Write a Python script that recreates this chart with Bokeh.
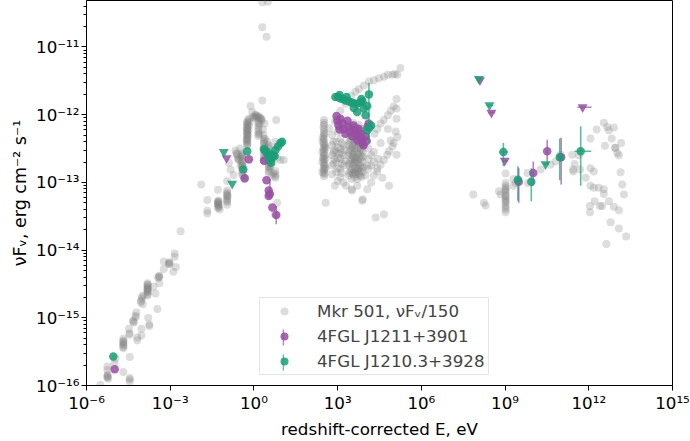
from bokeh.plotting import figure
from bokeh.models import ColumnDataSource, FixedTicker, CustomJSTickFormatter, Legend, LegendItem
from bokeh.embed import file_html
from bokeh.resources import INLINE

# Points are (log10 E/eV, log10 nuF_nu / erg cm^-2 s^-1).

# Mkr 501 (nuF_nu / 150)
mkr_radio = [
    (-5.50, -15.99), (-5.25, -15.87), (-5.25, -15.88), (-5.25, -15.72), (-5.25, -15.77), (-5.24, -15.84),
    (-5.22, -15.90), (-4.96, -15.60), (-5.00, -15.67), (-4.68, -15.80), (-4.45, -15.89), (-4.45, -15.91),
    (-4.45, -15.94), (-4.45, -15.58), (-4.68, -15.31), (-4.68, -15.34), (-4.68, -15.37), (-4.68, -15.41),
    (-4.68, -15.45), (-4.68, -15.35), (-4.48, -15.16), (-4.46, -15.23), (-4.46, -15.25), (-4.18, -15.29),
    (-4.18, -15.33), (-4.33, -15.04), (-4.30, -15.07), (-4.24, -14.97), (-4.21, -14.92), (-4.03, -15.16),
    (-4.03, -15.26), (-3.79, -15.00), (-3.75, -15.12), (-3.75, -15.10), (-4.05, -14.75), (-4.01, -14.69),
    (-3.98, -14.80), (-4.02, -14.72), (-3.81, -14.49), (-3.81, -14.52), (-3.81, -14.54), (-3.81, -14.56),
    (-3.81, -14.58), (-3.81, -14.60), (-3.81, -14.62), (-3.81, -14.65), (-3.81, -14.67), (-3.81, -14.57),
    (-3.96, -14.67), (-3.60, -14.54), (-3.46, -14.87), (-3.53, -14.64), (-3.39, -14.38), (-3.43, -14.41),
    (-3.41, -14.40), (-3.39, -14.49), (-3.23, -14.17), (-3.23, -14.28), (-3.03, -14.18), (-3.03, -14.21),
    (-3.05, -14.20), (-2.89, -14.32), (-2.80, -14.25), (-2.84, -14.05), (-2.84, -14.10), (-2.63, -13.72),
    (-4.68, -15.39), (-4.68, -15.43), (-4.33, -15.06), (-4.24, -14.99), (-4.05, -14.77), (-3.81, -14.51),
    (-3.81, -14.61), (-3.39, -14.39), (-3.03, -14.19), (-5.25, -15.86),
]
mkr_optical = [
    (-1.89, -13.03), (-1.67, -13.26), (-1.67, -13.42), (-1.67, -13.46), (-1.29, -13.11),
    (-1.29, -13.27), (-1.29, -13.30), (-1.27, -13.33), (-1.25, -13.36), (-1.23, -13.40), (-1.29, -13.38), (-1.27, -13.29),
    (-0.96, -12.98), (-0.96, -13.12), (-0.96, -13.17), (-0.96, -13.22), (-0.96, -13.27), (-0.96, -13.33), (-0.94, -13.20),
    (-0.90, -12.71), (-0.84, -12.81), (-0.73, -12.89),
    (-0.66, -12.53), (-0.60, -12.60), (-0.54, -12.67), (-0.48, -12.75), (-0.63, -12.57), (-0.57, -12.64),
    (-0.42, -12.57), (-0.42, -12.65), (-0.42, -12.73), (-0.42, -12.81), (-0.42, -12.89),
    (-0.50, -12.50), (-0.45, -12.62), (-0.40, -12.75), (-0.38, -12.90), (-0.35, -12.95),
    (-0.24, -12.10), (-0.24, -12.15), (-0.24, -12.21), (-0.24, -12.25), (-0.24, -12.28), (-0.24, -12.32),
    (-0.24, -12.35), (-0.24, -12.40), (-0.24, -12.45), (-0.26, -12.20), (-0.22, -12.30), (-0.26, -12.38),
    (-0.12, -11.87), (-0.06, -11.96), (-0.18, -12.06), (-0.18, -12.16), (-0.16, -12.11), (0.30, -11.79),
    (-0.05, -12.03), (0.06, -12.00), (0.16, -12.02), (0.27, -12.06), (0.38, -12.13), (0.00, -12.05), (0.10, -12.04), (0.22, -12.05),
    (0.16, -12.10), (0.16, -12.17), (0.16, -12.25), (0.16, -12.32), (0.20, -12.14), (0.20, -12.28),
    (0.36, -12.35), (0.36, -12.43), (0.36, -12.51), (0.36, -12.59), (0.36, -12.68), (0.32, -12.22), (0.34, -12.30),
    (0.53, -12.45), (0.53, -12.55), (0.53, -12.64), (0.53, -12.73), (0.53, -12.83), (0.48, -12.40), (0.58, -12.70), (0.58, -12.80),
    (0.77, -12.83), (0.77, -12.88), (0.77, -12.93), (0.70, -12.86), (0.65, -12.90),
    (0.80, -12.08), (0.83, -12.64), (0.77, -12.40), (0.95, -12.67), (1.07, -12.67), (0.76, -12.91), (0.75, -13.47), (0.83, -13.30),
    (0.30, -10.34), (0.50, -10.33), (0.30, -10.71), (0.45, -10.85),
    (-0.24, -12.12), (-0.24, -12.18), (-0.24, -12.24), (-0.24, -12.30), (-0.24, -12.37), (-0.24, -12.42),
    (0.36, -12.39), (0.36, -12.47), (0.36, -12.55), (0.36, -12.63), (0.53, -12.50), (0.53, -12.60),
    (0.53, -12.69), (0.53, -12.78), (0.16, -12.13), (0.16, -12.21), (0.16, -12.29), (-1.29, -13.31),
    (-1.27, -13.36), (-0.96, -13.15), (-0.96, -13.25), (-0.42, -12.61), (-0.42, -12.69), (-0.42, -12.77),
    (-0.42, -12.85), (0.05, -12.03), (0.25, -12.07),
    (-0.24, -12.14), (-0.24, -12.26), (-0.24, -12.34), (-0.24, -12.44), (-0.20, -12.08), (-0.20, -12.22),
    (0.36, -12.41), (0.36, -12.53), (0.36, -12.65), (0.40, -12.36), (0.40, -12.48),
    (0.53, -12.47), (0.53, -12.58), (0.53, -12.67), (0.53, -12.76), (0.53, -12.86), (0.60, -12.75),
    (0.05, -12.01), (0.12, -12.03), (0.20, -12.04), (0.28, -12.09),
    (-0.42, -12.60), (-0.42, -12.76), (-0.45, -12.68), (-0.60, -12.58), (-0.55, -12.66),
    (-1.29, -13.33), (-1.27, -13.28), (-0.96, -13.19), (-0.96, -13.29),
]
mkr_xray = [
    (5.25, -11.31), (5.14, -11.41), (4.96, -11.41), (4.80, -11.41), (4.66, -11.44), (4.48, -11.46), (4.30, -11.49),
    (4.12, -11.51), (3.94, -11.57), (3.76, -11.62), (3.64, -11.66), (3.49, -11.72), (3.28, -11.84), (3.10, -11.94), (5.05, -11.40),
    (5.11, -11.77), (5.01, -11.88), (4.90, -11.94), (4.80, -12.01), (4.66, -12.08), (4.54, -12.13), (4.42, -12.21), (4.32, -12.28),
    (5.11, -12.06), (5.08, -12.25), (5.01, -12.42), (4.96, -12.47), (4.84, -12.54), (4.78, -12.59), (4.66, -12.67), (4.54, -12.74), (4.42, -12.79),
    (5.11, -11.91), (5.14, -12.33), (5.11, -12.59), (4.90, -12.38), (4.80, -12.21), (4.54, -12.42),
    (4.84, -13.05), (4.60, -12.93), (4.42, -12.84), (4.20, -13.00), (4.06, -13.10), (4.36, -13.52), (4.66, -13.47),
    (2.51, -12.08), (2.51, -12.15), (2.51, -12.22), (2.51, -12.30), (2.51, -12.37), (2.51, -12.45), (2.51, -12.52),
    (2.51, -12.60), (2.51, -12.67), (2.51, -12.75), (2.51, -12.82), (2.51, -12.91), (2.45, -12.40), (2.45, -12.55),
    (2.45, -12.70), (2.45, -12.85), (2.57, -12.50), (2.57, -12.65), (2.57, -12.80), (2.57, -13.30),
    (2.80, -12.30), (2.80, -12.45), (2.80, -12.60), (2.80, -12.75), (2.80, -12.88), (2.95, -12.40), (2.95, -12.55),
    (2.95, -12.70), (2.95, -12.85), (3.10, -12.35), (3.10, -12.50), (3.10, -12.65), (3.10, -12.80), (3.10, -12.92),
    (3.22, -12.45), (3.22, -12.60), (3.22, -12.75), (2.70, -12.20), (2.90, -12.10), (3.00, -12.25),
    (3.40, -12.30), (3.40, -12.45), (3.40, -12.60), (3.40, -12.75), (3.40, -12.90),
    (3.50, -12.20), (3.50, -12.35), (3.50, -12.50), (3.50, -12.65), (3.50, -12.80), (3.50, -12.95),
    (3.60, -12.25), (3.60, -12.40), (3.60, -12.55), (3.60, -12.70), (3.60, -12.85),
    (3.70, -12.20), (3.70, -12.35), (3.70, -12.50), (3.70, -12.65), (3.70, -12.80), (3.70, -12.95),
    (3.80, -12.30), (3.80, -12.45), (3.80, -12.60), (3.80, -12.75), (3.80, -12.90),
    (3.90, -12.25), (3.90, -12.40), (3.90, -12.55), (3.90, -12.70), (3.90, -12.85),
    (3.45, -12.38), (3.55, -12.58), (3.65, -12.78), (3.75, -12.42), (3.85, -12.62), (3.55, -12.88), (3.75, -12.88), (3.65, -12.30),
    (4.10, -12.50), (4.10, -12.65), (4.10, -12.80), (4.20, -12.60), (4.20, -12.75), (4.30, -12.55), (4.30, -12.70),
    (4.30, -12.90), (4.45, -12.65), (4.00, -12.90), (4.05, -12.75),
    (3.50, -13.10), (3.52, -13.12), (3.88, -13.27), (3.90, -13.25), (3.20, -13.00), (3.00, -12.98), (2.90, -13.05),
    (3.70, -13.05), (3.30, -13.05),
    (3.45, -12.15), (3.45, -12.28), (3.45, -12.52), (3.45, -12.68), (3.45, -12.83),
    (3.55, -12.12), (3.55, -12.27), (3.55, -12.45), (3.55, -12.62), (3.55, -12.75),
    (3.65, -12.18), (3.65, -12.45), (3.65, -12.62), (3.65, -12.70), (3.65, -12.88),
    (3.75, -12.15), (3.75, -12.55), (3.75, -12.72), (3.75, -12.80),
    (3.85, -12.22), (3.85, -12.40), (3.85, -12.52), (3.85, -12.78), (3.85, -12.92),
    (2.51, -12.12), (2.51, -12.26), (2.51, -12.41), (2.51, -12.56), (2.51, -12.71), (2.51, -12.86),
    (2.48, -12.33), (2.48, -12.63), (2.54, -12.48), (2.54, -12.78),
    (3.05, -12.58), (3.15, -12.72), (3.15, -12.42), (2.88, -12.66), (2.88, -12.52),
    (3.42, -12.22), (3.42, -12.40), (3.42, -12.56), (3.42, -12.72), (3.42, -12.86),
    (3.52, -12.18), (3.52, -12.32), (3.52, -12.48), (3.52, -12.60), (3.52, -12.72), (3.52, -12.86),
    (3.62, -12.22), (3.62, -12.36), (3.62, -12.50), (3.62, -12.66), (3.62, -12.82), (3.62, -12.92),
    (3.72, -12.26), (3.72, -12.40), (3.72, -12.58), (3.72, -12.68), (3.72, -12.84),
    (3.82, -12.20), (3.82, -12.36), (3.82, -12.50), (3.82, -12.66), (3.82, -12.84),
    (3.92, -12.30), (3.92, -12.46), (3.92, -12.62), (3.92, -12.78),
    (2.49, -12.18), (2.49, -12.35), (2.49, -12.50), (2.49, -12.65), (2.49, -12.80),
    (2.53, -12.28), (2.53, -12.44), (2.53, -12.60), (2.53, -12.74), (2.53, -12.88),
    (2.85, -12.40), (2.85, -12.56), (2.85, -12.72), (3.00, -12.48), (3.00, -12.64), (3.00, -12.80),
    (3.15, -12.56), (3.15, -12.86), (3.25, -12.68), (3.25, -12.52),
]
mkr_gamma = [
    (7.86, -13.18), (8.24, -13.30), (8.30, -13.34),
    (9.02, -12.87), (9.02, -13.01), (9.02, -13.05), (9.02, -13.08), (9.02, -13.12), (9.02, -13.15), (9.02, -13.19),
    (9.02, -13.23), (9.02, -13.26), (9.02, -13.30), (9.02, -13.37), (9.02, -13.44),
    (9.02, -13.10), (9.02, -13.20), (9.02, -13.28), (9.02, -13.34), (9.02, -13.40),
    (8.78, -13.13), (8.84, -13.18), (9.30, -12.95), (9.30, -13.05), (9.38, -13.01),
    (9.80, -12.86), (9.82, -13.01), (10.27, -12.81), (10.63, -12.74), (10.81, -12.69), (10.99, -12.59),
    (11.41, -12.59), (11.49, -12.73), (11.44, -12.84), (11.65, -12.60), (11.69, -12.81), (11.89, -12.93),
    (12.06, -12.79), (12.18, -12.84), (11.44, -12.81),
    (12.06, -13.05), (12.18, -13.08), (12.36, -13.08), (12.54, -13.10), (12.54, -13.17),
    (12.04, -13.35), (12.04, -13.44), (12.21, -13.28), (12.40, -13.35), (12.48, -13.35),
    (12.72, -13.28), (12.90, -13.36), (13.08, -13.41), (12.78, -13.59), (13.08, -13.68), (13.34, -13.80), (12.63, -13.91),
    (12.06, -12.35), (12.58, -12.46), (12.28, -12.22),
    (12.54, -12.12), (12.66, -12.18), (12.72, -12.23), (12.82, -12.35), (12.90, -12.19), (12.96, -12.49),
    (13.02, -12.57), (13.08, -12.60), (13.16, -12.42), (12.94, -12.49),
    (13.14, -12.85), (13.20, -13.03), (13.26, -13.18),
]

# 4FGL J1211+3901
j1211_points = [
    (-4.99, -15.76),
    (-0.18, -12.66), (-0.33, -12.94), (0.36, -12.68), (0.45, -12.97), (0.53, -13.12), (0.57, -13.17),
    (0.53, -13.20), (0.66, -13.37), (0.80, -13.48),
    (2.96, -12.02), (2.99, -12.09), (3.03, -12.16), (3.07, -12.22), (3.10, -12.06), (3.18, -12.13), (3.21, -12.21),
    (3.28, -12.28), (3.35, -12.09), (3.39, -12.18), (3.46, -12.25), (3.53, -12.32), (3.57, -12.16), (3.64, -12.23),
    (3.68, -12.31), (3.71, -12.38), (3.75, -12.21), (3.82, -12.28), (3.86, -12.35), (3.89, -12.42), (3.93, -12.45),
    (4.00, -12.32), (4.07, -12.18), (4.11, -12.13), (4.04, -12.39),
    (9.49, -12.99), (10.01, -12.86), (10.51, -12.54), (11.01, -12.63),
]
j1211_yerr = [  # (log E, log F low, log F high)
    (0.57, -13.25, -12.95), (0.80, -13.62, -13.35), (9.49, -13.30, -12.79),
    (10.01, -13.05, -12.69), (10.51, -12.73, -12.37), (11.01, -13.03, -12.34),
]
j1211_xerr = [  # (log F, log E low, log E high)
    (-11.89, 11.59, 12.10), (-12.68, 8.92, 9.10), (-11.97, 8.39, 8.64),
]
j1211_ul = [(-0.98, -12.64), (8.10, -11.49), (8.51, -11.97), (8.99, -12.68), (11.78, -11.89)]

# 4FGL J1210.3+3928
j1210_points = [
    (-5.04, -15.57),
    (-0.24, -12.54), (-0.38, -12.81), (0.36, -12.51), (0.42, -12.54), (0.50, -12.60), (0.57, -12.67), (0.62, -12.71),
    (0.65, -12.64), (0.69, -12.59), (0.77, -12.52), (0.86, -12.47), (0.95, -12.42), (1.01, -12.40), (0.52, -12.57),
    (0.74, -12.61), (0.60, -12.62),
    (2.92, -11.74), (3.01, -11.74), (3.10, -11.76), (3.20, -11.77), (3.28, -11.79), (3.40, -11.80), (3.49, -11.82),
    (3.58, -11.83), (3.70, -11.84), (3.82, -11.82), (3.85, -11.77), (3.58, -11.90), (3.70, -11.96), (3.94, -11.91),
    (4.06, -11.87), (4.12, -11.70), (4.00, -12.01), (4.06, -12.23), (4.14, -12.19), (4.20, -12.16), (3.32, -11.74),
    (3.89, -11.80), (3.07, -11.71),
    (8.94, -12.55), (9.46, -12.96), (9.94, -12.99), (10.96, -12.63), (11.71, -12.54),
]
j1210_yerr = [
    (4.12, -12.42, -11.53), (8.94, -12.76, -12.42), (9.46, -13.27, -12.76),
    (9.94, -13.28, -12.79), (10.96, -12.97, -12.35), (11.71, -13.05, -12.17),
]
j1210_xerr = [(-12.55, 8.80, 9.10), (-12.54, 11.49, 12.09), (-12.73, 10.39, 10.57), (-11.86, 8.33, 8.58)]
j1210_ul = [(-1.08, -12.55), (-0.78, -13.02), (8.06, -11.47), (8.44, -11.86), (10.45, -12.73)]

x_tick_exponents = [-6, -3, 0, 3, 6, 9, 12, 15]
y_tick_exponents = [-16, -15, -14, -13, -12, -11]

GREY = "#808080"
PURPLE = "#984ea3"
GREEN = "#1b9e77"
FONT = "DejaVu Sans"


def pts_src(pts):
    return ColumnDataSource(dict(x=[10.0 ** e for e, f in pts], y=[10.0 ** f for e, f in pts]))


def yerr_src(errs):
    return ColumnDataSource(dict(x=[10.0 ** e for e, lo, hi in errs],
                                 y0=[10.0 ** lo for e, lo, hi in errs],
                                 y1=[10.0 ** hi for e, lo, hi in errs]))


def xerr_src(errs):
    return ColumnDataSource(dict(y=[10.0 ** f for f, lo, hi in errs],
                                 x0=[10.0 ** lo for f, lo, hi in errs],
                                 x1=[10.0 ** hi for f, lo, hi in errs]))


p = figure(width=690, height=441, x_axis_type="log", y_axis_type="log",
           x_range=(1e-6, 1e15), y_range=(1e-16, 4.86e-11),
           output_backend="svg", toolbar_location=None,
           min_border_left=86, min_border_right=18, min_border_top=0, min_border_bottom=50)
p.xgrid.visible = False
p.ygrid.visible = False
p.background_fill_color = "white"
p.border_fill_color = "white"
p.outline_line_color = "black"
p.outline_line_width = 1

mkr_all = mkr_radio + mkr_optical + mkr_xray + mkr_gamma
r_mkr = p.scatter("x", "y", source=pts_src(mkr_all), marker="circle", size=8,
                  fill_color=GREY, fill_alpha=0.27, line_color=None)

renderers = {}
bars = {}
for color, pts, yerr, xerr, ul, name in [
    (PURPLE, j1211_points, j1211_yerr, j1211_xerr, j1211_ul, "p"),
    (GREEN, j1210_points, j1210_yerr, j1210_xerr, j1210_ul, "g"),
]:
    ysrc = yerr_src(yerr)
    p.segment(x0="x", y0="y0", x1="x", y1="y1", source=ysrc,
              line_color=color, line_alpha=0.7, line_width=1.6)
    p.segment(x0="x0", y0="y", x1="x1", y1="y", source=xerr_src(xerr),
              line_color=color, line_alpha=0.7, line_width=1.6)
    renderers[name] = p.scatter("x", "y", source=pts_src(pts), marker="circle", size=8.5,
                                fill_color=color, fill_alpha=0.85, line_color=None)
    p.scatter("x", "y", source=pts_src(ul), marker="inverted_triangle", size=10,
              fill_color=color, fill_alpha=0.85, line_color=None)
    # hidden proxy (same error-bar data) used only to draw the vertical bar in the legend
    bars[name] = p.vbar(x="x", bottom="y0", top="y1", width=0.0, source=ysrc,
                        fill_color=color, fill_alpha=0.7, line_color=None, visible=False)

sup_code = """
const sup = {'-': '⁻', '0': '⁰', '1': '¹', '2': '²', '3': '³', '4': '⁴',
             '5': '⁵', '6': '⁶', '7': '⁷', '8': '⁸', '9': '⁹'};
const e = Math.round(Math.log10(tick));
let s = '';
for (const c of String(e)) { s += sup[c]; }
return '10' + s;
"""

p.xaxis.ticker = FixedTicker(ticks=[10.0 ** k for k in x_tick_exponents], minor_ticks=[])
p.yaxis.ticker = FixedTicker(ticks=[10.0 ** k for k in y_tick_exponents],
                             minor_ticks=[m * 10.0 ** k for k in range(-17, -10) for m in range(2, 10)])
for ax in (p.xaxis, p.yaxis):
    ax.formatter = CustomJSTickFormatter(code=sup_code)
    ax.major_label_text_font = FONT
    ax.major_label_text_font_size = "16.7px"
    ax.major_label_text_color = "black"
    ax.axis_label_text_font = FONT
    ax.axis_label_text_font_size = "16.7px"
    ax.axis_label_text_font_style = "normal"
    ax.axis_label_text_color = "black"
    ax.axis_line_color = "black"
    ax.major_tick_line_color = "black"
    ax.minor_tick_line_color = "black"
    ax.major_tick_in = 0
    ax.major_tick_out = 5
    ax.minor_tick_in = 0
    ax.minor_tick_out = 3
    ax.major_label_standoff = 2
    ax.axis_label_standoff = 3

p.xaxis.axis_label = "redshift-corrected E, eV"
p.yaxis.axis_label = "νFᵥ, erg cm⁻² s⁻¹"
p.yaxis.axis_label_text_font_size = "17.5px"

legend = Legend(items=[
    LegendItem(label="Mkr 501, νFᵥ/150", renderers=[r_mkr]),
    LegendItem(label="4FGL J1211+3901", renderers=[renderers["p"]]),
    LegendItem(label="4FGL J1210.3+3928", renderers=[renderers["g"]]),
], location=(173, 10), padding=3, spacing=5, glyph_width=42, glyph_height=20, label_standoff=12,
    label_text_font=FONT, label_text_font_size="16.7px", margin=0,
    border_line_color="#cccccc", border_line_width=1,
    background_fill_color="white", background_fill_alpha=0.8)
p.add_layout(legend)

legend_bars = Legend(items=[
    LegendItem(label=" ", renderers=[bars["p"]]),
    LegendItem(label=" ", renderers=[bars["g"]]),
], location=(193, 10), padding=3, spacing=5, glyph_width=2, glyph_height=20, label_standoff=0,
    label_text_font=FONT, label_text_font_size="16.7px", margin=0,
    border_line_alpha=0, background_fill_alpha=0, inactive_fill_alpha=0)
p.add_layout(legend_bars)

open("out.html", "w").write(file_html(p, INLINE))
